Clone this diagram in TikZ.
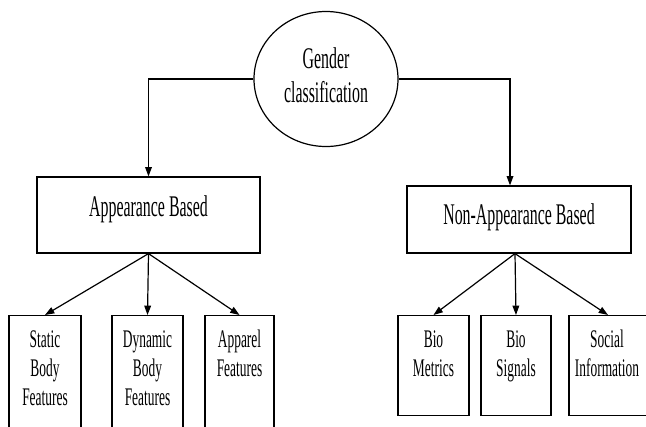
\documentclass[tikz,border=0pt]{standalone}
\usepackage{graphicx}
\usepackage{fontspec}
\setmainfont{Liberation Serif}
\usetikzlibrary{shapes.geometric,arrows.meta}

\newcommand{\nar}[1]{\scalebox{0.53}[1]{\begin{tabular}[t]{@{}c@{}}#1\end{tabular}}}

\tikzset{every picture/.style={line width=0.9pt}}

\begin{document}
\begin{tikzpicture}[x=0.75pt,y=0.75pt,yscale=-1,xscale=1,
  box/.style={draw, rectangle, inner sep=0pt},
  leaf/.style={box, anchor=north, minimum height=93.75pt},
  big/.style={font=\fontsize{22.5}{25.5}\selectfont},
  small/.style={font=\fontsize{19}{21.75}\selectfont},
  lbl/.style={inner sep=0pt, anchor=base},
  arr/.style={-{Triangle[length=7pt,width=5pt]}}]
\useasboundingbox (0,0) rectangle (646,426);

%Shape: Ellipse
\node [draw, ellipse, inner sep=0pt, minimum width=108pt, minimum height=101.25pt, big] (gc) at (326,79) {\nar{Gender\\classification}};

%Shape: Rectangle
\node [box, minimum width=167.25pt, minimum height=57pt] (ab) at (148.5,215) {};
%Shape: Rectangle
\node [box, minimum width=168pt, minimum height=50.25pt] (nab) at (519,219.5) {};

%Shape: Rectangle (leaves, left)
\node [leaf, minimum width=54pt] (sb) at (45,315) {};
\node [leaf, minimum width=53.25pt] (db) at (147.5,315) {};
\node [leaf, minimum width=51.75pt] (af) at (239.5,315) {};
%Shape: Rectangle (leaves, right)
\node [leaf, minimum width=53.25pt, minimum height=75pt] (bm) at (433.5,315) {};
\node [leaf, minimum width=52.5pt, minimum height=75pt] (bs) at (516,315) {};
\node [leaf, minimum width=58.5pt, minimum height=75pt] (si) at (608,315) {};

%Straight Lines
\draw [arr] (gc.west) -| (ab.north);
\draw [arr] (gc.east) -| ([xshift=-6.75pt]nab.north);
\draw [arr] (ab.south) -- (sb.north);
\draw [arr] (ab.south) -- (db.north);
\draw [arr] (ab.south) -- (af.north);
\draw [arr] ([xshift=-3pt]nab.south) -- (bm.north);
\draw [arr] ([xshift=-3pt]nab.south) -- (bs.north);
\draw [arr] ([xshift=-3pt]nab.south) -- (si.north);

% Text Node
\node [lbl, big] (abt) at (148.5,216) {\nar{Appearance Based}};
% Text Node
\node [lbl, big] (nabt) at (519,224) {\nar{Non-Appearance Based}};
% Text Node
\node [lbl, small] (sbt) at (45,347) {\nar{Static\\Body\\Features}};
% Text Node
\node [lbl, small] (dbt) at (147.5,347) {\nar{Dynamic\\Body\\Features}};
% Text Node
\node [lbl, small] (aft) at (239.5,347) {\nar{Apparel\\Features}};
% Text Node
\node [lbl, small] (bmt) at (433.5,347) {\nar{Bio\\Metrics}};
% Text Node
\node [lbl, small] (bst) at (516,347) {\nar{Bio\\Signals}};
% Text Node
\node [lbl, small] (sit) at (607,347) {\nar{Social\\Information}};

\end{tikzpicture}
\end{document}
